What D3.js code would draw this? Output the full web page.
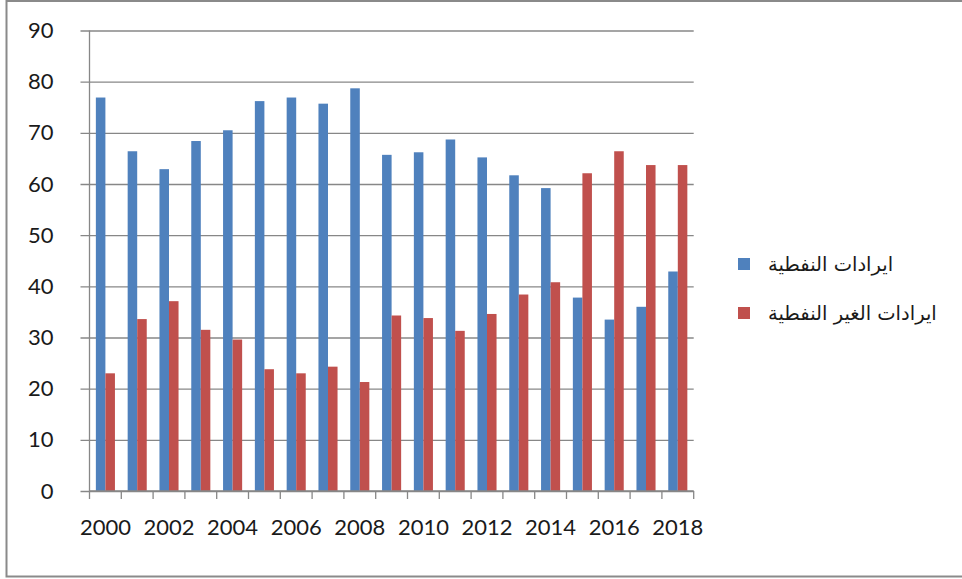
<!DOCTYPE html>
<html>
<head>
<meta charset="utf-8">
<script src="https://cdn.jsdelivr.net/npm/d3@7/dist/d3.min.js"></script>
<style>
  html, body { margin: 0; padding: 0; background: #fff; }
  svg { display: block; }
</style>
</head>
<body>
<svg id="chart" width="962" height="579"></svg>
<script>
const years = ["2000","2001","2002","2003","2004","2005","2006","2007","2008","2009",
               "2010","2011","2012","2013","2014","2015","2016","2017","2018"];
const oilRevenue = [76.9, 66.4, 62.9, 68.4, 70.5, 76.2, 76.9, 75.7, 78.7, 65.7,
                    66.2, 68.7, 65.2, 61.7, 59.2, 37.8, 33.5, 36.0, 42.9];
const nonOilRevenue = [23.0, 33.6, 37.1, 31.5, 29.6, 23.8, 23.0, 24.3, 21.3, 34.3,
                       33.8, 31.3, 34.6, 38.4, 40.8, 62.1, 66.4, 63.7, 63.7];
const yTicks = [0, 10, 20, 30, 40, 50, 60, 70, 80, 90];
const xTickLabels = ["2000","2002","2004","2006","2008","2010","2012","2014","2016","2018"];
const seriesNames = ["ايرادات النفطية", "ايرادات الغير النفطية"];
const seriesColors = ["#4F81BD", "#C0504D"];

const svg = d3.select("#chart");

// outer frame
svg.append("rect")
  .attr("x", 6.5).attr("y", 1).attr("width", 1000).attr("height", 575.5)
  .attr("fill", "none").attr("stroke", "#8a8a8a").attr("stroke-width", 2);

const plot = { left: 89.5, right: 693.7, top: 30.5, bottom: 491 };

const x = d3.scaleBand().domain(years).range([plot.left, plot.right])
  .paddingInner(0.4).paddingOuter(0.2);
const xSub = d3.scaleBand().domain([0, 1]).range([0, x.bandwidth()]);
const y = d3.scaleLinear().domain([0, 90]).range([plot.bottom, plot.top]);

const gridColor = "#878787";
const fontFamily = "Lato, 'Liberation Sans', sans-serif";

// Y axis with gridlines
const yAxis = svg.append("g")
  .attr("transform", `translate(${plot.left},0)`)
  .call(d3.axisLeft(y).tickValues(yTicks).tickSize(9).tickPadding(27));
yAxis.select(".domain").remove();
yAxis.selectAll(".tick line")
  .attr("x1", -9).attr("x2", plot.right - plot.left)
  .attr("stroke", gridColor).attr("stroke-width", 1.3);
yAxis.selectAll(".tick text")
  .attr("fill", "#1a1a1a").style("font-family", fontFamily).style("font-size", "22px");

// bars
const series = [oilRevenue, nonOilRevenue];
series.forEach((vals, si) => {
  svg.append("g").selectAll("rect")
    .data(years.map((yr, i) => ({ yr, v: vals[i] })))
    .join("rect")
    .attr("x", d => x(d.yr) + xSub(si))
    .attr("y", d => y(d.v))
    .attr("width", xSub.bandwidth())
    .attr("height", d => y(0) - y(d.v))
    .attr("fill", seriesColors[si]);
});

// left axis line
svg.append("line")
  .attr("x1", plot.left).attr("x2", plot.left)
  .attr("y1", plot.top).attr("y2", plot.bottom)
  .attr("stroke", gridColor).attr("stroke-width", 1.3);

// X axis labels
const xAxis = svg.append("g")
  .attr("transform", `translate(0,${plot.bottom})`)
  .call(d3.axisBottom(x).tickValues(xTickLabels).tickSize(0).tickPadding(28));
xAxis.select(".domain").remove();
xAxis.selectAll(".tick text")
  .attr("fill", "#1a1a1a").style("font-family", fontFamily).style("font-size", "22px");

// x axis line and boundary ticks
const step = x.step();
const boundaries = d3.range(years.length + 1).map(i => plot.left + i * step);
svg.append("line")
  .attr("x1", plot.left).attr("x2", plot.right)
  .attr("y1", plot.bottom).attr("y2", plot.bottom)
  .attr("stroke", gridColor).attr("stroke-width", 1.3);
svg.append("g").selectAll("line").data(boundaries).join("line")
  .attr("x1", d => d).attr("x2", d => d)
  .attr("y1", plot.bottom).attr("y2", plot.bottom + 8)
  .attr("stroke", gridColor).attr("stroke-width", 1.3);

// legend
const legend = svg.append("g");
const legendY = [264, 313];
seriesNames.forEach((name, i) => {
  legend.append("rect")
    .attr("x", 738).attr("y", legendY[i] - 6).attr("width", 12).attr("height", 12)
    .attr("fill", seriesColors[i]);
  legend.append("text")
    .attr("x", 768).attr("y", legendY[i])
    .attr("dy", "0.35em")
    .attr("text-anchor", "start")
    .style("font-family", "'DejaVu Sans', sans-serif")
    .style("font-size", "19.5px")
    .attr("fill", "#1a1a1a")
    .text(name);
});
</script>
</body>
</html>
